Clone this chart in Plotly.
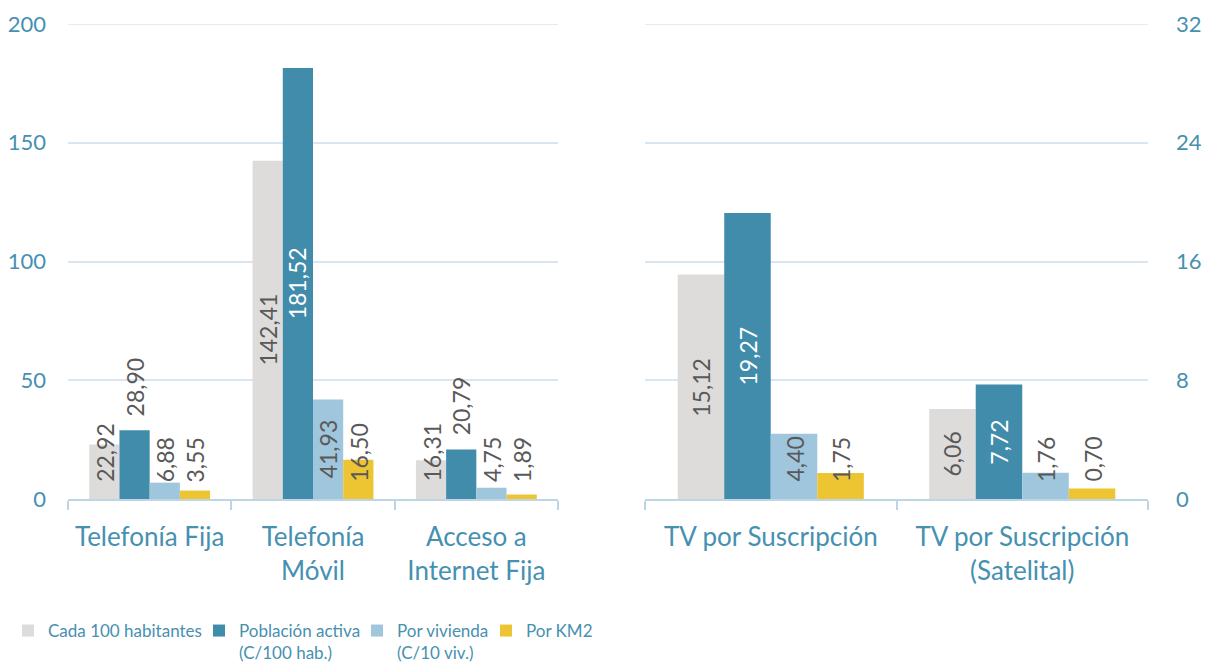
import plotly.graph_objects as go

# ---- data ----
left_categories = ["Telefonía Fija", "Telefonía<br>Móvil", "Acceso a<br>Internet Fija"]
right_categories = ["TV por Suscripción", "TV por Suscripción<br>(Satelital)"]
series_names = ["Cada 100 habitantes", "Población activa<br>(C/100 hab.)",
                "Por vivienda<br>(C/10 viv.)", "Por KM2"]
left_values = [
    [22.92, 142.41, 16.31],
    [28.90, 181.52, 20.79],
    [6.88, 41.93, 4.75],
    [3.55, 16.50, 1.89],
]
right_values = [
    [15.12, 6.06],
    [19.27, 7.72],
    [4.40, 1.76],
    [1.75, 0.70],
]
left_ticks = [0, 50, 100, 150, 200]
right_ticks = [0, 8, 16, 24, 32]

# ---- style ----
colors = ["#DEDCDB", "#418CAB", "#9FC6DD", "#EDC431"]
legend_widths = [146, 113, 84, 70]
text_blue = "#4690B1"
grid_col = "#D9E6F2"
axis_col = "#BCD6E8"
label_grey = "#595959"
FONT = "Lato"
LABEL_SIZE = 23
# page body has an 8px margin: figure is offset by it
OFF = 8
W, H = 1214 - OFF, 662 - OFF
BARGAP = 0.26
y_dom = [1 - (499 - OFF) / H, 1 - (24 - OFF) / H]
plot_h = (y_dom[1] - y_dom[0]) * H

fig = go.Figure()
for i, name in enumerate(series_names):
    fig.add_trace(go.Bar(x=left_categories, y=left_values[i], name=name,
                         marker=dict(color=colors[i], line=dict(width=0)),
                         legendgroup=str(i), legendwidth=legend_widths[i],
                         xaxis="x", yaxis="y"))
for i, name in enumerate(series_names):
    fig.add_trace(go.Bar(x=right_categories, y=right_values[i], name=name,
                         marker=dict(color=colors[i], line=dict(width=0)),
                         legendgroup=str(i), showlegend=False,
                         xaxis="x2", yaxis="y2"))


def text_len(s):
    return sum(0.25 * LABEL_SIZE if c == "," else 0.58 * LABEL_SIZE for c in s)


annotations = []
bw = (1 - BARGAP) / 4
for values, xref, yref, ymax in [(left_values, "x", "y", left_ticks[-1]),
                                 (right_values, "x2", "y2", right_ticks[-1])]:
    ppu = plot_h / ymax
    for i, row in enumerate(values):
        for j, v in enumerate(row):
            txt = f"{v:.2f}".replace(".", ",")
            L = text_len(txt)
            bar_px = v * ppu
            xpos = j + (i - 1.5) * bw
            col = label_grey
            if i == 1:
                if L + 24 <= bar_px:
                    y, ya, ys, col = v / 2, "middle", 0, "white"
                else:
                    y, ya, ys = v, "bottom", 12
            else:
                if bar_px / 2 - L / 2 >= 17:
                    y, ya, ys = v / 2, "middle", 0
                else:
                    y, ya, ys = 0, "bottom", 15
            annotations.append(dict(x=xpos, y=y, xref=xref, yref=yref, text=txt,
                                    textangle=-90, showarrow=False, yanchor=ya,
                                    xanchor="center", yshift=ys,
                                    font=dict(family=FONT, size=LABEL_SIZE, color=col)))

# top gridlines (at the range end, which plotly would clip)
shapes = [
    dict(type="line", xref="x domain", yref="y", x0=0, x1=1,
         y0=left_ticks[-1], y1=left_ticks[-1], line=dict(color=grid_col, width=1.5),
         layer="below"),
    dict(type="line", xref="x2 domain", yref="y2", x0=0, x1=1,
         y0=right_ticks[-1], y1=right_ticks[-1], line=dict(color=grid_col, width=1.5),
         layer="below"),
]

xaxis_common = dict(type="category", showline=True, linecolor=axis_col, linewidth=2,
                    ticks="outside", tickson="boundaries", ticklen=9, tickwidth=2,
                    tickcolor=axis_col, showgrid=False, automargin=False,
                    ticklabelstandoff=14,
                    tickfont=dict(family=FONT, size=26, color=text_blue))
yaxis_common = dict(showgrid=True, gridcolor=grid_col, gridwidth=1.5, zeroline=False,
                    showline=False, ticks="", automargin=False, domain=y_dom,
                    tickfont=dict(family=FONT, size=22, color=text_blue))

fig.update_layout(
    width=W, height=H, autosize=False,
    margin=dict(l=0, r=0, t=0, b=0, autoexpand=False),
    paper_bgcolor="white", plot_bgcolor="white",
    barmode="group", bargap=BARGAP, bargroupgap=0,
    font=dict(family=FONT, color=text_blue),
    xaxis=dict(domain=[(68 - OFF) / W, (558 - OFF) / W], anchor="y", **xaxis_common),
    xaxis2=dict(domain=[(645 - OFF) / W, (1148 - OFF) / W], anchor="y2", **xaxis_common),
    yaxis=dict(anchor="x", range=[0, left_ticks[-1]], tickvals=left_ticks,
               ticklabelstandoff=21, **yaxis_common),
    yaxis2=dict(anchor="x2", side="right", range=[0, right_ticks[-1]],
                tickvals=right_ticks, ticklabelstandoff=27, **yaxis_common),
    legend=dict(orientation="h", x=0.0, xanchor="left", y=1 - (613 - OFF) / H,
                yanchor="top", valign="top",
                font=dict(family=FONT, size=17, color=text_blue),
                itemwidth=30, traceorder="normal"),
    annotations=annotations,
    shapes=shapes,
)

fig.write_html("out.html")
